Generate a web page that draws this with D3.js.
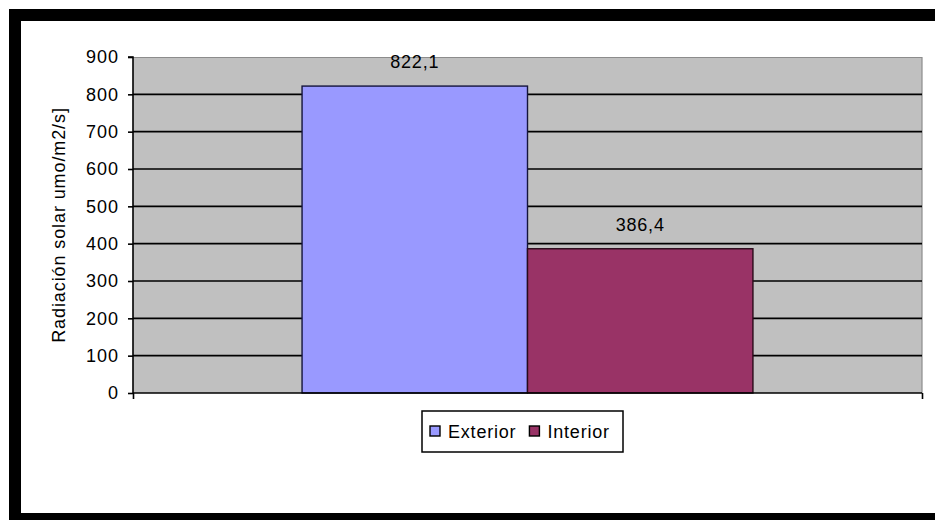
<!DOCTYPE html>
<html><head><meta charset="utf-8">
<script src="https://cdn.jsdelivr.net/npm/d3@7"></script>
<style>
html,body{margin:0;padding:0;background:#fff;}
svg text{font-family:"Liberation Sans",Arial,sans-serif;fill:#000;}
</style></head>
<body>
<svg id="chart" width="935" height="520"></svg>
<script>
const categories = ["Radiación"];
const seriesNames = ["Exterior", "Interior"];
const seriesValues = [822.1, 386.4];
const seriesLabels = ["822,1", "386,4"];
const seriesColors = ["#9999ff", "#993366"];
const tickValues = [0, 100, 200, 300, 400, 500, 600, 700, 800, 900];
const yTitle = "Radiación solar umo/m2/s]";

const svg = d3.select("#chart");
const W = 935, H = 520;
svg.append("rect").attr("width", W).attr("height", H).attr("fill", "#fff");

// outer black frame
svg.append("rect").attr("x", 9).attr("y", 9).attr("width", W - 9).attr("height", 12).attr("fill", "#000");
svg.append("rect").attr("x", 9).attr("y", 9).attr("width", 12).attr("height", H - 9).attr("fill", "#000");
svg.append("rect").attr("x", 9).attr("y", 513).attr("width", W - 9).attr("height", 7).attr("fill", "#000");

const plot = {left: 133, right: 922, top: 57, bottom: 393};

const y = d3.scaleLinear().domain([0, 900]).range([plot.bottom, plot.top]);
const xCat = d3.scaleBand().domain(categories).range([plot.left, plot.right]).padding(0.2727);
const xSer = d3.scaleBand().domain(seriesNames).range([0, xCat.bandwidth()]).padding(0);

// plot background
svg.append("rect").attr("x", plot.left).attr("y", plot.top)
  .attr("width", plot.right - plot.left).attr("height", plot.bottom - plot.top)
  .attr("fill", "#c0c0c0");

// plot border (top / right)
svg.append("line").attr("x1", plot.left).attr("x2", plot.right).attr("y1", plot.top + 0.5).attr("y2", plot.top + 0.5)
  .attr("stroke", "#8c8c8c").attr("stroke-width", 1.2);
svg.append("line").attr("x1", plot.right).attr("x2", plot.right).attr("y1", plot.top).attr("y2", plot.bottom)
  .attr("stroke", "#8c8c8c").attr("stroke-width", 1.2);

// gridlines
svg.append("g").selectAll("line").data(tickValues.filter(v => v > 0 && v < 900)).join("line")
  .attr("x1", plot.left).attr("x2", plot.right)
  .attr("y1", d => y(d)).attr("y2", d => y(d))
  .attr("stroke", "#000").attr("stroke-width", 1.6);

// bars
const g = svg.append("g").attr("transform", `translate(${xCat(categories[0])},0)`);
g.selectAll("rect").data(seriesNames).join("rect")
  .attr("x", d => xSer(d))
  .attr("y", (d, i) => y(seriesValues[i]))
  .attr("width", xSer.bandwidth())
  .attr("height", (d, i) => y(0) - y(seriesValues[i]))
  .attr("fill", (d, i) => seriesColors[i])
  .attr("stroke", (d, i) => i === 0 ? "#14143c" : "#2a0a1a")
  .attr("stroke-width", 1.4);

// value labels
g.selectAll("text.val").data(seriesNames).join("text")
  .attr("class", "val")
  .attr("x", d => xSer(d) + xSer.bandwidth() / 2)
  .attr("y", (d, i) => y(seriesValues[i]) - 18)
  .attr("text-anchor", "middle")
  .style("font-size", "18px").style("letter-spacing", "0.8px")
  .text((d, i) => seriesLabels[i]);

// y axis
const yAxis = d3.axisLeft(y).tickValues(tickValues).tickSize(5).tickPadding(9).tickFormat(d3.format("d"));
const ya = svg.append("g").attr("transform", `translate(${plot.left},0)`).call(yAxis);
ya.select(".domain").attr("stroke", "#000").attr("stroke-width", 1.6).attr("d", `M-5,${plot.top}H0V${plot.bottom}`);
ya.selectAll(".tick line").attr("stroke", "#000").attr("stroke-width", 1.6);
ya.selectAll(".tick text").style("font-size", "18px").style("letter-spacing", "1px")
  .style("font-family", '"Liberation Sans",Arial,sans-serif').attr("fill", "#000");

// x axis baseline
const xAxis = d3.axisBottom(d3.scaleLinear().domain([0, 1]).range([plot.left, plot.right])).tickValues([0, 1]).tickSize(6).tickFormat("");
const xa = svg.append("g").attr("transform", `translate(0,${plot.bottom})`).call(xAxis);
xa.select(".domain").attr("stroke", "#000").attr("stroke-width", 1.6).attr("d", `M${plot.left},0H${plot.right}`);
xa.selectAll(".tick line").attr("stroke", "#000").attr("stroke-width", 1.6);

// y title
svg.append("text")
  .attr("transform", `translate(65,${(plot.top + plot.bottom) / 2}) rotate(-90)`)
  .attr("text-anchor", "middle")
  .style("font-size", "18px").style("letter-spacing", "0.9px")
  .text(yTitle);

// legend
const leg = svg.append("g");
const legBox = leg.append("rect").attr("x", 422).attr("y", 411).attr("width", 201).attr("height", 41)
  .attr("fill", "#fff").attr("stroke", "#000").attr("stroke-width", 1.5);
let lx = 430;
seriesNames.forEach((name, i) => {
  leg.append("rect").attr("x", lx).attr("y", 426).attr("width", 10).attr("height", 10)
    .attr("fill", seriesColors[i]).attr("stroke", "#000").attr("stroke-width", 1.4);
  const t = leg.append("text").attr("x", lx + 18).attr("y", 437.5)
    .style("font-size", "18px").style("letter-spacing", "0.8px").text(name);
  lx += 18 + t.node().getComputedTextLength() + 13;
});
</script>
</body></html>
